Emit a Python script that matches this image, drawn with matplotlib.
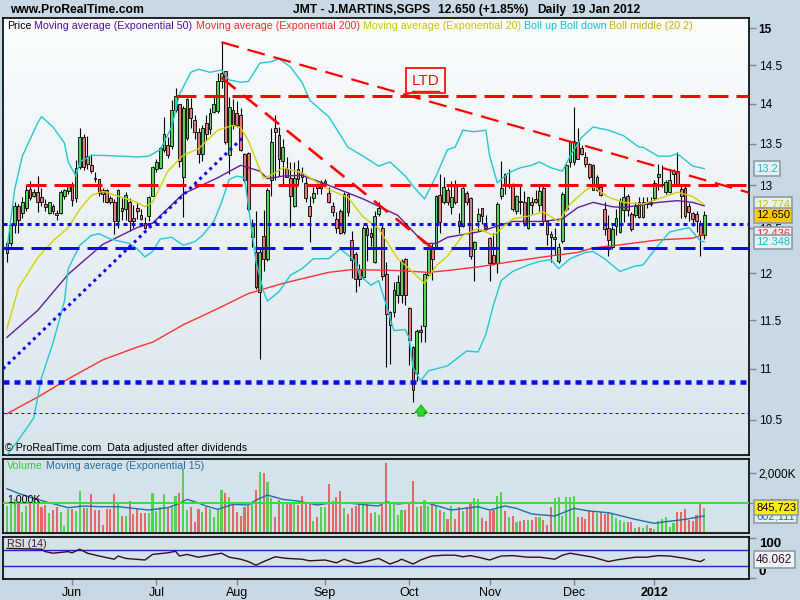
import numpy as np
import pandas as pd
import matplotlib
matplotlib.use("Agg")
import matplotlib.pyplot as plt
from matplotlib.colors import LinearSegmentedColormap
from matplotlib.ticker import NullLocator

plt.rcParams['font.family'] = ['Liberation Sans', 'DejaVu Sans']
plt.rcParams['lines.scale_dashes'] = False

# ------------------------------------------------------------------ data
dates = pd.bdate_range('2011-05-09', '2012-01-19')
dates = dates[dates != pd.Timestamp('2011-12-26')]

opens = [12.22,12.33,12.54,12.76,12.68,12.74,12.96,12.88,12.92,12.86,
         12.78,12.68,12.76,12.68,12.68,12.88,12.93,12.99,12.85,13.22,
         13.58,13.25,13.24,13.09,13.07,12.95,12.94,12.85,12.81,12.58,
         12.74,12.72,12.80,12.62,12.73,12.65,12.56,12.64,12.88,13.20,
         13.21,13.43,13.49,13.47,13.92,14.00,13.10,13.57,13.95,13.80,
         13.65,13.38,13.76,13.68,13.90,13.91,14.30,14.43,13.36,13.92,
         13.88,13.86,13.38,13.39,12.40,12.24,11.80,12.41,12.16,13.06,
         13.70,13.61,13.29,13.20,13.09,12.76,13.20,13.15,13.03,12.76,
         12.85,12.99,12.97,13.03,12.91,12.76,12.61,12.70,12.46,12.90,
         12.37,12.21,12.05,11.96,12.51,12.45,12.12,12.66,12.51,11.99,
         11.45,11.58,11.76,11.76,12.16,11.63,11.22,10.96,11.40,11.44,
         11.98,12.27,12.28,12.89,12.80,12.95,12.75,12.99,12.58,12.53,
         12.91,12.85,12.27,12.59,12.73,12.53,12.39,12.20,12.11,12.87,
         13.13,12.99,13.01,12.70,12.82,12.80,12.50,12.80,12.84,12.77,
         12.97,12.58,12.44,12.38,12.14,12.36,12.72,13.28,13.28,13.52,
         13.45,13.34,13.25,13.24,12.94,12.98,12.72,12.51,12.29,12.53,
         12.46,12.71,12.88,12.66,12.65,12.80,12.63,12.78,12.80,12.85,
         13.10,13.00,12.92,12.92,13.13,13.17,12.96,12.97,12.76,12.68,
         12.66,12.56,12.42]
highs = [12.36,12.55,12.80,12.78,12.86,13.00,13.05,12.96,13.11,12.97,
         12.84,12.81,12.78,12.71,12.94,12.96,13.02,13.04,13.30,13.70,
         13.62,13.60,13.38,13.16,13.08,12.97,12.96,12.87,12.84,12.96,
         12.85,12.92,12.85,12.77,12.79,12.72,12.63,12.88,13.23,13.32,
         13.46,13.84,13.58,14.05,14.21,14.00,13.98,14.08,14.08,13.86,
         13.70,13.74,13.86,13.95,14.12,14.40,14.81,14.43,14.09,14.06,
         14.04,13.95,13.39,13.40,12.61,12.70,12.27,12.71,12.97,13.70,
         13.86,13.71,13.56,13.34,13.28,13.28,13.30,13.22,13.10,12.87,
         12.98,13.03,13.06,13.07,12.98,12.81,12.69,12.72,12.92,12.92,
         12.47,12.23,12.10,12.53,12.54,12.50,12.70,12.80,12.54,12.12,
         11.60,11.90,11.98,12.16,12.17,11.64,11.23,11.41,11.45,12.00,
         12.30,12.33,12.89,13.13,13.10,12.98,13.05,13.06,12.68,12.99,
         12.93,12.86,12.36,12.73,12.74,12.65,12.40,12.45,12.80,13.29,
         13.15,13.19,13.03,12.89,13.00,12.93,12.86,12.86,12.95,12.99,
         12.99,12.60,12.47,12.50,12.33,12.92,13.26,13.54,13.96,13.70,
         13.49,13.40,13.27,13.26,13.12,13.00,12.80,12.65,12.53,12.72,
         12.85,12.99,12.90,12.69,12.80,12.86,12.86,12.86,12.86,13.06,
         13.26,13.24,13.06,13.19,13.19,13.40,12.99,12.99,12.79,12.69,
         12.70,12.60,12.70]
lows = [12.12,12.30,12.45,12.45,12.62,12.70,12.83,12.86,12.69,12.76,
        12.70,12.67,12.66,12.60,12.66,12.84,12.90,12.76,12.80,13.20,
        13.18,13.20,13.15,13.04,12.87,12.80,12.79,12.78,12.44,12.50,
        12.60,12.60,12.47,12.50,12.61,12.60,12.49,12.58,12.87,13.16,
        13.20,13.40,13.33,13.44,13.90,13.22,12.63,13.55,13.70,13.56,
        13.27,13.29,13.55,13.62,13.88,13.88,14.20,13.50,13.13,13.68,
        13.71,13.41,13.04,12.70,12.29,11.83,11.10,12.02,12.14,12.87,
        13.06,13.11,13.00,13.10,12.52,12.75,13.00,13.04,12.80,12.35,
        12.79,12.90,12.90,13.00,12.79,12.64,12.45,12.44,12.44,12.64,
        11.95,11.80,11.86,11.94,12.13,12.30,12.11,12.64,11.93,11.02,
        11.05,11.53,11.68,11.68,11.66,11.04,10.67,10.88,11.27,11.27,
        11.97,11.93,12.27,12.45,12.78,12.77,12.66,12.78,12.45,12.52,
        12.77,12.16,11.92,12.47,12.55,12.48,11.92,12.09,12.00,12.84,
        12.90,12.97,12.70,12.66,12.66,12.53,12.49,12.67,12.79,12.70,
        12.54,12.31,12.12,12.20,12.11,12.34,12.70,13.22,13.24,13.31,
        13.36,13.22,13.07,12.94,12.93,12.88,12.42,12.19,12.27,12.42,
        12.45,12.57,12.64,12.47,12.63,12.62,12.62,12.74,12.76,12.83,
        12.94,12.98,12.90,12.91,13.00,13.00,12.62,12.62,12.58,12.53,
        12.46,12.19,12.38]
closes = [12.34,12.54,12.76,12.60,12.81,12.95,12.85,12.92,12.81,12.81,
          12.75,12.80,12.70,12.65,12.92,12.94,12.99,12.83,13.21,13.58,
          13.22,13.35,13.17,13.07,12.91,12.90,12.81,12.81,12.59,12.95,
          12.70,12.89,12.58,12.59,12.70,12.61,12.50,12.86,13.22,13.28,
          13.45,13.62,13.37,13.92,14.10,13.29,13.95,14.06,13.82,13.65,
          13.38,13.70,13.62,13.89,14.00,14.30,14.40,13.52,13.96,13.73,
          13.73,13.43,13.06,12.72,12.53,11.85,12.23,12.16,12.95,13.52,
          13.65,13.32,13.46,13.10,12.88,13.09,13.07,13.10,12.85,12.64,
          12.91,12.97,13.04,13.05,12.80,12.69,12.50,12.45,12.90,12.69,
          12.15,11.94,11.94,12.51,12.42,12.40,12.64,12.73,11.97,11.56,
          11.58,11.82,11.91,12.14,11.77,11.29,10.79,11.39,11.38,11.99,
          12.29,12.16,12.88,12.57,12.98,12.80,12.86,12.80,12.53,12.97,
          12.80,12.19,12.35,12.67,12.64,12.50,12.11,12.11,12.78,12.97,
          13.02,13.02,12.72,12.88,12.80,12.56,12.86,12.77,12.80,12.93,
          12.58,12.44,12.40,12.40,12.29,12.90,13.24,13.52,13.53,13.32,
          13.38,13.26,13.10,12.95,13.10,12.89,12.49,12.37,12.49,12.62,
          12.82,12.86,12.71,12.49,12.76,12.63,12.81,12.81,12.78,13.03,
          13.14,13.02,13.04,13.06,13.17,13.01,12.88,12.64,12.69,12.61,
          12.58,12.42,12.65]
volume_k = [900,1010,1120,955,710,900,1045,1120,1155,877,
            932,677,766,855,710,233,810,788,733,1400,
            821,821,1300,766,766,266,788,800,1300,1010,
            566,566,1077,633,821,677,655,677,1343,744,
            877,1288,877,900,1232,1321,2120,766,877,377,
            788,710,877,788,544,766,1432,1343,1188,966,
            710,566,877,900,1045,1432,2042,1987,1709,1154,
            522,1099,1045,988,966,988,932,1232,1045,988,
            411,522,877,877,1632,1077,1210,1410,821,633,
            821,900,1045,1045,966,655,710,600,932,2342,
            1045,988,600,766,766,955,1743,877,900,1099,
            900,966,932,766,710,466,900,466,877,733,
            877,1043,1154,1132,511,400,733,766,1243,1365,
            733,544,566,377,411,433,433,433,544,522,
            433,266,877,1177,1188,566,1188,1188,1232,544,
            544,455,766,733,677,710,633,655,633,488,
            433,377,377,377,155,189,155,266,155,133,
            411,466,522,189,344,710,710,800,433,411,
            600,955,846]

# indicator lines (day index, value)
ema50_idx = [0,8,16,25,34,38,46,55,61,66,68,72,77,84,93,102,109,112,115,123,
             132,140,145,149,153,158,161,170,175,179,182]
ema50 = [11.32,11.60,11.99,12.32,12.51,12.56,12.90,13.09,13.24,13.17,13.08,13.11,13.12,
         13.00,12.84,12.65,12.33,12.33,12.40,12.46,12.58,12.58,12.61,12.74,12.80,12.75,
         12.74,12.80,12.82,12.80,12.76]
ema200_idx = [0,8,16,25,34,38,46,55,63,72,77,84,90,102,110,115,123,132,140,149,
              153,161,170,179,182]
ema200 = [10.56,10.72,10.90,11.09,11.22,11.27,11.45,11.62,11.78,11.89,11.94,12.01,12.04,
          12.03,12.01,12.03,12.07,12.13,12.18,12.23,12.28,12.32,12.37,12.39,12.436]
ema20_idx = [0,3,8,12,16,19,22,25,30,34,36,38,42,46,50,55,59,61,63,66,
             67,70,72,77,84,89,93,97,102,105,109,112,115,119,123,127,132,136,140,144,
             147,151,153,157,161,166,170,175,179,182]
ema20 = [11.41,11.84,12.17,12.36,12.51,12.72,12.88,12.93,12.86,12.80,
         12.75,12.80,13.17,13.36,13.44,13.67,13.73,13.70,13.54,13.19,
         13.08,13.15,13.21,13.15,12.95,12.86,12.63,12.50,12.16,12.05,
         11.89,12.08,12.19,12.42,12.50,12.42,12.61,12.64,12.69,12.58,
         12.78,12.94,12.99,12.86,12.80,12.78,12.84,12.92,12.87,12.774]
boll_up_idx = [0,2,4,8,9,12,15,16,18,19, 22,25,30,34,37,40,43,45,48,50,
               53,56,58,61,63,66,69,71,74,77, 79,82,84,89,93,97,100,104,106,109,
               112,115,117,119,122,125,126,128,131,134, 137,139,142,145,147,150,153,157,161,165,
               166,170,173,175,179,182]
boll_up = [12.27,12.95,13.35,13.76,13.84,13.71,13.51,13.28,13.11,13.28,
           13.36,13.36,13.35,13.34,13.35,13.43,13.71,14.12,14.41,14.45,
           14.41,14.44,14.31,14.28,14.29,14.53,14.55,14.59,14.48,14.28,
           14.05,13.92,13.84,13.46,13.35,13.23,13.28,13.11,12.99,12.84,
           13.11,13.43,13.46,13.67,13.65,13.67,13.35,13.03,13.15,13.21,
           13.24,13.28,13.21,13.17,13.35,13.58,13.71,13.67,13.60,13.46,
           13.46,13.35,13.35,13.38,13.23,13.20]
boll_dn_idx = [0,3,7,9,12,15,16,19,22,24, 27,30,32,34,36,38,40,43,46,49,
               51,54,56,58,60,62,63,65,67,68, 71,74,77,80,84,87,91,92,95,97,
               99,101,104,105,106,108,110,115,118,120, 123,125,127,129,132,136,139,142,144,147,
               151,153,156,160,164,166,170,173,178,181, 182]
boll_dn = [10.17,10.31,10.52,10.91,11.26,11.70,12.05,12.31,12.42,12.44,
           12.38,12.35,12.33,12.27,12.18,12.24,12.38,12.40,12.31,12.35,
           12.42,12.58,12.80,13.07,13.11,13.09,12.76,12.13,11.80,11.70,
           11.80,11.98,12.05,12.16,12.16,12.27,12.13,11.98,11.87,11.92,
           11.66,11.39,11.40,11.31,11.01,10.88,10.98,11.03,11.12,11.18,
           11.17,11.35,11.66,11.92,12.02,12.09,12.13,12.15,12.05,12.16,
           12.23,12.24,12.16,12.02,12.08,12.09,12.31,12.46,12.51,12.36,
           12.348]
vol_ema_idx = [0,3,7,11,16,20,24,29,33,37, 42,45,47,49,52,55,59,63,65,68,
               72,76,81,85,90,94,97,99,102,106, 110,116,123,126,130,133,137,143,148,152,
               157,164,169,172,177,182]
vol_ema = [1476,1321,1154,1010,844,900,877,877,821,766,
           844,988,1121,1043,900,788,955,932,1099,1265,
           1121,1066,932,1010,988,932,900,1043,966,1021,
           988,766,877,766,900,821,633,566,821,733,
           677,455,322,377,455,566]
rsi_idx = [0,9,10,12,16,17,19,21,24,28, 29,31,36,38,42,44,45,47,50,56,
           58,61,63,65,67,70,73,77,79,83, 86,88,91,92,97,100,102,103,106,108,
           110,111,114,117,119,121,123,126,129,132, 136,139,143,145,147,150,153,157,159,164,
           167,170,173,177,179,181,182]
rsi = [74,72,66,62,66,63,72,62,55,47, 55,49,45,59,63,67,55,59,52,62,
       52,47,41,32,41,53,49,47,43,45, 38,47,37,37,49,35,42,47,35,45,
       52,55,57,57,53,56,52,45,55,56, 52,52,47,57,62,57,52,41,45,52,
       52,56,55,49,45,41,46.062]

# drawn support / resistance levels and trend lines
red_levels = [14.10, 13.00]
red_level_start = [44, 5]
blue_dotted_level = 12.55
blue_dashed_level = 12.28
blue_low_level = 10.87
blue_min_level = 10.57
ltd_line = ([56, 194], [14.81, 12.91])
short_down_line = ([56, 111], [14.34, 12.28])
up_line = ([-1.04, 61.6], [11.00, 13.58])

price_ticks = [10.5, 11, 11.5, 12, 12.5, 13, 13.5, 14, 14.5, 15]
price_tick_labels = ['10.5', '11', '11.5', '12', '12.5', '13', '13.5', '14', '14.5', '15']

# ------------------------------------------------------------------ figure
W, H = 800, 600
PX = 0.72
fig = plt.figure(figsize=(8, 6), dpi=100, facecolor='#c8d9e3')
renderer = fig.canvas.get_renderer()


def rect(x0, y0, x1, y1):
    return [x0 / W, 1 - y1 / H, (x1 - x0) / W, (y1 - y0) / H]


n = len(closes)
x = np.arange(n)
o = np.array(opens); hi = np.array(highs); lo = np.array(lows); c = np.array(closes)
up = c >= o
XL = (-1.04, 193.7)

main_r = rect(3, 18, 749, 455)
bg = fig.add_axes(main_r, zorder=0)
grad = np.linspace(0, 1, 256).reshape(-1, 1)
bg.imshow(grad, aspect='auto', cmap=LinearSegmentedColormap.from_list('g', ['#fbfdfe', '#d8e5ec']),
          extent=[0, 1, 0, 1], origin='upper')
bg.set_axis_off()

ax = fig.add_axes(main_r, zorder=1)
ax.patch.set_alpha(0)
ax.set_yscale('log')
ax.set_xlim(*XL)
ax.set_ylim(10.17, 15.14)

# candles
ax.vlines(x, lo, hi, color='black', lw=0.8, zorder=3)
ax.bar(x, np.maximum(np.abs(c - o), 0.004), bottom=np.minimum(o, c), width=0.72,
       color=np.where(up, '#5ccf5c', '#e57878'), edgecolor='black', linewidth=0.6, zorder=3.5)

# indicators
ax.plot(ema200_idx, ema200, color='#ff3030', lw=1.0, zorder=4)
ax.plot(ema50_idx, ema50, color='#6a1a9a', lw=1.0, zorder=4)
ax.plot(boll_up_idx, boll_up, color='#22c8d2', lw=1.0, zorder=4)
ax.plot(boll_dn_idx, boll_dn, color='#22c8d2', lw=1.0, zorder=4)
ax.plot(ema20_idx, ema20, color='#d2d200', lw=1.0, zorder=4)

# levels
def hline(level, start, color, lw_px, on_px, off_px, z=6):
    ax.plot([start, XL[1]], [level, level], color=color, lw=lw_px * PX,
            dashes=(on_px * PX, off_px * PX), dash_capstyle='butt', zorder=z)

for lvl, st in zip(red_levels, red_level_start):
    hline(lvl, st, '#ff0000', 3, 20, 8)
hline(blue_dotted_level, XL[0], '#0a0af0', 3, 4, 4)
hline(blue_dashed_level, XL[0], '#0a0af0', 3, 20, 8)
hline(blue_low_level, XL[0], '#0a0af0', 4.5, 6, 5)
hline(blue_min_level, XL[0], '#0a0af0', 1, 3, 3)

ax.plot(*ltd_line, color='#ff0000', lw=2.2 * PX, dashes=(18 * PX, 9 * PX), zorder=6)
ax.plot(*short_down_line, color='#ff0000', lw=2.6 * PX, dashes=(18 * PX, 10 * PX), zorder=6)
ax.plot(*up_line, color='#0a0af0', lw=3 * PX, dashes=(3 * PX, 4 * PX), zorder=6)

ax.text(109.2, 14.30, 'LTD', color='#ff1010', fontsize=11, ha='center', va='center', zorder=7,
        bbox=dict(boxstyle='square,pad=0.35', fc='none', ec='#ff1010', lw=1.3))
ax.plot([105.6, 112.8], [14.165, 14.165], color='#ff1010', lw=1.0, zorder=7)
ax.annotate('', xy=(108.1, 10.67), xytext=(108.1, 10.51),
            arrowprops=dict(arrowstyle='simple,head_length=0.55,head_width=0.9,tail_width=0.45',
                            fc='#22dd22', ec='#119911', lw=0.6), zorder=7)

ax.set_xticks([])
ax.yaxis.tick_right()
ax.set_yticks(price_ticks, labels=price_tick_labels)
ax.yaxis.set_minor_locator(NullLocator())
ax.tick_params(axis='y', length=5, width=1, color='#7d8a93', labelsize=8.5, pad=2)
for t in ax.get_yticklabels():
    if t.get_text() == '15':
        t.set_fontweight('bold')
for s in ax.spines.values():
    s.set_linewidth(1.2)


def rlabel(a, val, txt, color, fc, z, size=8):
    a.text(1.0095, val, txt, transform=a.get_yaxis_transform(), color=color, fontsize=size,
           ha='left', va='center', clip_on=False, zorder=z,
           bbox=dict(boxstyle='square,pad=0.2', fc=fc, ec='#8e9ca6', lw=1.2))


rlabel(ax, boll_up[-1], '13.2', '#10c0cc', '#e8f0f4', 10)
rlabel(ax, ema20[-1], '12.774', '#c8c800', '#e8f0f4', 11)
rlabel(ax, ema200[-1], '12.436', '#ff2020', '#e8f0f4', 12)
rlabel(ax, closes[-1], '12.650', 'black', '#ffcc00', 13)
rlabel(ax, boll_dn[-1], '12.348', '#10c0cc', '#e8f0f4', 14)

# ------------------------------------------------------------------ volume
axv = fig.add_axes(rect(3, 459, 749, 533), facecolor='#d4e2ea')
axv.set_xlim(*XL)
axv.set_ylim(0, 2467)
axv.bar(x, volume_k, width=0.55, color=np.where(up, '#55d055', '#e46868'), zorder=2)
axv.plot(vol_ema_idx, vol_ema, color='#1f6fa8', lw=1.0, zorder=3)
axv.axhline(1000, color='#22ee22', lw=1.4, zorder=4)
axv.set_xticks([])
axv.yaxis.tick_right()
axv.set_yticks([1000, 2000], labels=['1,000K', '2,000K'])
axv.tick_params(axis='y', length=5, width=1, color='#7d8a93', labelsize=8.5, pad=2)
for s in axv.spines.values():
    s.set_linewidth(1.2)
rlabel(axv, vol_ema[-1], '602,111', '#1f6fa8', '#e8f0f4', 10)
rlabel(axv, volume_k[-1], '845,723', 'black', '#ffee00', 11)

# ------------------------------------------------------------------ RSI
axr = fig.add_axes(rect(3, 537, 749, 579), facecolor='#d4e2ea')
axr.set_xlim(*XL)
axr.set_ylim(-2.5, 102.5)
axr.plot(rsi_idx, rsi, color='#3a0a1e', lw=1.0, zorder=3)
axr.axhline(70, color='#2020e0', lw=1.0, zorder=2)
axr.axhline(30, color='#2020e0', lw=1.0, zorder=2)
axr.yaxis.tick_right()
axr.set_yticks([0, 100], labels=['0', '100'])
axr.tick_params(axis='y', length=5, width=1, color='#7d8a93', labelsize=9.5, pad=2)
for t in axr.get_yticklabels():
    t.set_fontweight('bold')
    t.set_va('bottom' if t.get_text() == '0' else 'top')
for s in axr.spines.values():
    s.set_linewidth(1.2)
rlabel(axr, rsi[-1], '46.062', '#3a0a2a', '#eef3f6', 10, size=8.5)

month_idx = [i for i in range(1, n) if dates[i].month != dates[i - 1].month]
month_lab = [dates[i].strftime('%b') if dates[i].month != 1 else str(dates[i].year) for i in month_idx]
axr.set_xticks(month_idx, labels=month_lab)
axr.tick_params(axis='x', length=4, width=1, color='#7d8a93', labelsize=9, pad=2)
for t in axr.get_xticklabels():
    if t.get_text().isdigit():
        t.set_fontweight('bold')

# ------------------------------------------------------------------ texts
def seq_text(x0, y0, parts, size, weight='normal'):
    xx = x0
    for s, col in parts:
        t = fig.text(xx / W, 1 - y0 / H, s, color=col, fontsize=size, fontweight=weight,
                     ha='left', va='center', zorder=20)
        xx += t.get_window_extent(renderer=renderer).width + size * 100 / 72 * 0.28


seq_text(10, 10, [('www.ProRealTime.com', 'black')], 8.7, 'bold')
fig.text(293 / W, 1 - 10 / H, 'JMT - J.MARTINS,SGPS', fontsize=8.7, fontweight='bold', va='center')
fig.text(438 / W, 1 - 10 / H, '12.650 (+1.85%)', fontsize=8.7, fontweight='bold', va='center')
fig.text(537 / W, 1 - 10 / H, 'Daily', fontsize=8.7, fontweight='bold', va='center')
fig.text(572 / W, 1 - 10 / H, '19 Jan 2012', fontsize=8.7, fontweight='bold', va='center')

seq_text(7, 26, [('Price', 'black'),
                 ('Moving average (Exponential 50)', '#4b12a0'),
                 ('Moving average (Exponential 200)', '#ff2a2a'),
                 ('Moving average (Exponential 20)', '#c8c800'),
                 ('Boll up Boll down', '#10c4d0'),
                 ('Boll middle (20 2)', '#c8b400')], 7.7)
seq_text(5, 448, [('\u00a9 ProRealTime.com  Data adjusted after dividends', 'black')], 7.7)
seq_text(7, 466, [('Volume', '#3cc83c'), ('Moving average (Exponential 15)', '#1f6fa8')], 7.7)
seq_text(7, 499, [('1,000K', 'black')], 7.7)
seq_text(7, 544, [('RSI (14)', '#4a1030')], 7.7)

fig.savefig('out.png', dpi=100, facecolor=fig.get_facecolor())
